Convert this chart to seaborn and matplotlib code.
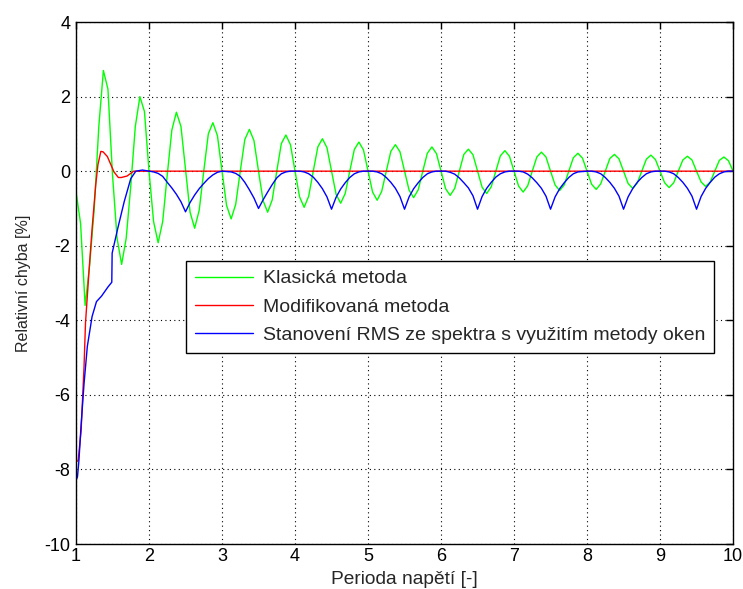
import numpy as np
import matplotlib
matplotlib.use('Agg')
import matplotlib.pyplot as plt
import seaborn as sns

# relative RMS error [%] versus number of voltage periods
# green = classic method, sampled every 1/16 period
green_x = np.arange(1, 10.0001, 0.0625)
green_y = [-0.55, -1.4, -3.6, -2.5, -1.0, 1.2, 2.7, 2.2, -0.1, -1.8, -2.5, -1.8, -0.4, 1.2, 2.0, 1.6,
           0.0, -1.35, -1.92, -1.35, -0.1, 1.1, 1.58, 1.2, 0.05, -1.1, -1.53, -1.05, 0.0, 1.0, 1.3, 0.95,
           0.0, -0.92, -1.28, -0.89, 0.0, 0.85, 1.12, 0.82, 0.0, -0.79, -1.1, -0.77, 0.0, 0.74, 0.97, 0.71,
           0.0, -0.69, -0.97, -0.67, 0.0, 0.65, 0.87, 0.63, 0.0, -0.62, -0.86, -0.6, 0.0, 0.58, 0.78, 0.57,
           0.0, -0.56, -0.78, -0.54, 0.0, 0.53, 0.71, 0.52, 0.0, -0.51, -0.71, -0.5, 0.0, 0.48, 0.65, 0.47,
           0.0, -0.47, -0.65, -0.46, 0.0, 0.45, 0.59, 0.44, 0.0, -0.43, -0.6, -0.42, 0.0, 0.41, 0.55, 0.4,
           0.0, -0.4, -0.56, -0.39, 0.0, 0.38, 0.51, 0.38, 0.0, -0.37, -0.52, -0.37, 0.0, 0.36, 0.48, 0.35,
           0.0, -0.35, -0.49, -0.34, 0.0, 0.34, 0.45, 0.33, 0.0, -0.33, -0.46, -0.32, 0.0, 0.32, 0.43, 0.31,
           0.0, -0.31, -0.44, -0.31, 0.0, 0.3, 0.4, 0.3, 0.0, -0.29, -0.41, -0.29, 0.0, 0.29, 0.38, 0.28,
           0.0]

# red = modified method
red_x = [1.0, 1.03, 1.07, 1.11, 1.13, 1.18, 1.22, 1.27, 1.30, 1.34, 1.37, 1.43, 1.52, 1.58, 1.62, 1.70, 1.79, 10.0]
red_y = [-7.8, -7.76, -6.95, -5.24, -4.07, -2.63, -1.55, -0.37, 0.17, 0.53, 0.52, 0.39, -0.02, -0.17, -0.17, -0.13, 0.0, 0.0]

# blue = RMS from spectrum (window method)
blue_start_x = [1.0, 1.02, 1.04, 1.07, 1.11, 1.155, 1.22, 1.28, 1.35, 1.44, 1.49, 1.495, 1.57, 1.66, 1.75, 1.82, 1.91]
blue_start_y = [-8.3, -8.2, -7.76, -6.8, -5.7, -4.7, -3.9, -3.5, -3.35, -3.1, -2.98, -2.2, -1.55, -0.82, -0.2, 0.0, 0.03]
blue_x = np.arange(2, 10.0001, 0.0625)
blue_y = [0.0, -0.02, -0.06, -0.14, -0.3, -0.45, -0.62, -0.82, -1.09, -0.84, -0.64, -0.47, -0.33, -0.2, -0.1, -0.03,
          0.0, -0.01, -0.02, -0.06, -0.14, -0.3, -0.5, -0.72, -1.0, -0.77, -0.56, -0.36, -0.18, -0.07, -0.02, 0.0,
          0.0, 0.0, -0.02, -0.07, -0.16, -0.3, -0.47, -0.69, -1.02, -0.7, -0.48, -0.31, -0.17, -0.07, -0.02, 0.0,
          0.0, 0.0, -0.02, -0.07, -0.17, -0.3, -0.46, -0.68, -1.02, -0.69, -0.47, -0.31, -0.17, -0.07, -0.02, 0.0,
          0.0, 0.0, -0.03, -0.08, -0.18, -0.31, -0.45, -0.66, -1.02, -0.68, -0.46, -0.3, -0.16, -0.07, -0.02, 0.0,
          0.0, 0.0, -0.02, -0.08, -0.18, -0.31, -0.46, -0.67, -1.02, -0.69, -0.47, -0.31, -0.17, -0.07, -0.02, -0.01,
          0.0, 0.0, -0.02, -0.07, -0.17, -0.3, -0.46, -0.67, -1.02, -0.69, -0.47, -0.3, -0.17, -0.07, -0.02, 0.0,
          0.0, 0.0, -0.02, -0.07, -0.17, -0.3, -0.46, -0.67, -1.02, -0.68, -0.46, -0.3, -0.16, -0.07, -0.02, 0.0,
          0.0]

labels = ['Klasická metoda', 'Modifikovaná metoda', 'Stanovení RMS ze spektra s využitím metody oken']

sns.set_style('white')
plt.rcParams['font.family'] = ['Liberation Sans', 'DejaVu Sans']
plt.rcParams['axes.unicode_minus'] = False

fig = plt.figure(figsize=(7.43, 5.89), dpi=100)
ax = fig.add_axes([0.1023, 0.0764, 0.8843, 0.8862])

sns.lineplot(x=green_x, y=green_y, color='#00ff00', lw=1, estimator=None, label=labels[0], ax=ax)
sns.lineplot(x=red_x, y=red_y, color='#ff0000', lw=1, estimator=None, label=labels[1], ax=ax)
sns.lineplot(x=np.concatenate([blue_start_x, blue_x]), y=blue_start_y + blue_y,
             color='#0000ff', lw=1, estimator=None, label=labels[2], ax=ax)

ax.set_xlim(1, 10)
ax.set_ylim(-10, 4)
ax.set_xticks(range(1, 11))
ax.set_yticks(range(-10, 5, 2))
ax.set_axisbelow(True)
ax.grid(True, color='k', linestyle=(0, (1, 3)), lw=0.8)
for s in ax.spines.values():
    s.set_color('k')
    s.set_linewidth(1)
ax.tick_params(direction='in', length=5, width=1, top=True, right=True, labelsize=13, colors='k')
ax.tick_params(axis='x', pad=3)
ax.tick_params(axis='y', pad=4)

ax.set_xlabel('Perioda napětí [-]', fontsize=13.8, labelpad=4)
ax.set_ylabel('Relativní chyba [%]', fontsize=11.5, labelpad=10)

leg = ax.legend(loc='upper left', bbox_to_anchor=(0.1675, 0.542), fontsize=14, frameon=True,
                fancybox=False, edgecolor='k', framealpha=1, handlelength=3.0, handletextpad=0.5,
                borderaxespad=0, borderpad=0.45, labelspacing=0.55)
leg.get_frame().set_linewidth(1)

fig.savefig('out.png', dpi=100)
